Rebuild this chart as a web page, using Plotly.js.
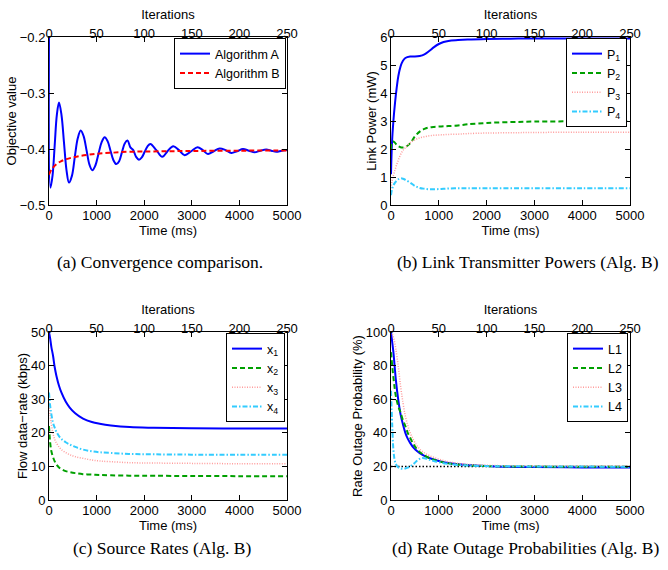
<!DOCTYPE html>
<html>
<head>
<meta charset="utf-8">
<script src="https://cdn.plot.ly/plotly-3.0.1.min.js"></script>
<style>html,body{margin:0;padding:0;background:#fff;}#chart{width:668px;height:570px;}</style>
</head>
<body>
<div id="chart"></div>
<script>
// ---------- Panel (a): objective value ----------
const timeA = [0, 30, 75, 120, 165, 210, 262, 315, 368, 420, 481, 543, 604, 666, 727, 789, 850, 911, 976, 1040, 1105, 1170, 1231, 1292, 1354, 1415, 1474, 1532, 1591, 1650, 1710, 1770, 1830, 1890, 1950, 2010, 2070, 2130, 2255, 2380, 2490, 2610, 2730, 2850, 2990, 3120, 3230, 3340, 3460, 3585, 3710, 3830, 3950, 4075, 4200, 4320, 4440, 4565, 4670, 4775, 4890, 5000];
const algA = [-0.2, -0.469, -0.447, -0.393, -0.339, -0.317, -0.339, -0.3885, -0.438, -0.460, -0.448, -0.4135, -0.381, -0.367, -0.377, -0.4025, -0.428, -0.438, -0.429, -0.4085, -0.388, -0.379, -0.386, -0.403, -0.420, -0.427, -0.4218, -0.406, -0.3902, -0.385, -0.397, -0.402, -0.414, -0.419, -0.4149, -0.405, -0.3951, -0.391, -0.402, -0.414, -0.404, -0.395, -0.402, -0.411, -0.404, -0.397, -0.402, -0.409, -0.404, -0.399, -0.402, -0.407, -0.404, -0.400, -0.403, -0.406, -0.403, -0.401, -0.403, -0.405, -0.403, -0.402];
const timeB = [0, 50, 155, 250, 365, 500, 645, 850, 1065, 1350, 1653, 2000, 2500, 3000, 4000, 5000];
const algB = [-0.446, -0.437, -0.427, -0.422, -0.418, -0.415, -0.4125, -0.41, -0.408, -0.4065, -0.405, -0.4045, -0.404, -0.4035, -0.403, -0.4025];

// ---------- Panel (b): link powers (mW) ----------
const timeP = [0, 20, 50, 84, 120, 153, 200, 250, 300, 400, 500, 600, 700, 800, 900, 1000, 1100, 1200, 1400, 1600, 2000, 2500, 3000, 4000, 5000];
const P1 = [1.1, 2.2, 3.0, 3.65, 4.2, 4.6, 4.95, 5.15, 5.25, 5.3, 5.3, 5.32, 5.38, 5.5, 5.64, 5.75, 5.82, 5.86, 5.89, 5.91, 5.93, 5.94, 5.95, 5.95, 5.95];
const P2 = [2.0, 2.25, 2.27, 2.22, 2.15, 2.1, 2.06, 2.05, 2.07, 2.2, 2.45, 2.62, 2.72, 2.77, 2.79, 2.8, 2.81, 2.82, 2.84, 2.88, 2.93, 2.96, 2.98, 2.99, 3.0];
const P3 = [0.6, 0.85, 1.05, 1.25, 1.45, 1.6, 1.8, 1.95, 2.05, 2.22, 2.33, 2.4, 2.44, 2.47, 2.49, 2.5, 2.51, 2.52, 2.53, 2.55, 2.57, 2.58, 2.59, 2.6, 2.6];
const P4 = [0.35, 0.55, 0.7, 0.8, 0.87, 0.92, 0.95, 0.94, 0.9, 0.8, 0.68, 0.61, 0.58, 0.56, 0.56, 0.57, 0.58, 0.59, 0.6, 0.6, 0.6, 0.6, 0.6, 0.6, 0.6];

// ---------- Panel (c): source rates (kbps) ----------
const timeX = [0, 25, 50, 84, 120, 155, 210, 260, 350, 435, 550, 715, 900, 1065, 1300, 1695, 2200, 3000, 4000, 5000];
const x1 = [50, 48, 45.5, 43, 39.5, 37, 34, 32, 29.3, 27.5, 25.8, 24.2, 23.2, 22.7, 22.2, 21.7, 21.5, 21.35, 21.3, 21.3];
const x2 = [22, 17, 14.5, 12.8, 11.5, 10.6, 9.7, 9.2, 8.6, 8.3, 8.0, 7.7, 7.55, 7.45, 7.35, 7.25, 7.2, 7.15, 7.1, 7.1];
const x3 = [29, 25, 22.5, 19.8, 18, 17, 15.8, 15, 14.1, 13.5, 12.9, 12.4, 11.9, 11.6, 11.4, 11.1, 11, 10.9, 10.8, 10.8];
const x4 = [32, 28, 25.5, 23, 21.5, 20.3, 19, 18.2, 17.2, 16.5, 15.8, 15, 14.5, 14.2, 14, 13.7, 13.6, 13.5, 13.5, 13.5];

// ---------- Panel (d): rate outage probabilities (%) ----------
const timeL = [0, 25, 50, 75, 100, 150, 200, 250, 300, 350, 400, 475, 550, 650, 800, 1000, 1200, 1600, 2200, 3000, 4000, 5000];
const L1 = [100, 94, 88, 80, 72, 60, 51, 45, 40, 36.5, 34, 31, 29, 27, 25, 23.2, 22, 20.8, 20, 19.6, 19.4, 19.3];
const L2 = [88, 80, 73, 67, 62, 56, 52, 47.5, 44, 40, 37, 33, 30, 27.5, 25, 23, 21.8, 20.7, 20.1, 19.9, 19.8, 19.8];
const L3 = [100, 99, 97, 94, 90, 80, 68, 58, 50, 44.5, 40, 35.5, 32, 29, 26.5, 24.3, 22.8, 21.2, 20.5, 20.3, 20.2, 20.2];
const L4 = [65, 45, 30, 24, 21.5, 19.5, 18.8, 18.6, 18.8, 19.3, 20, 21.5, 23.5, 25, 24, 22.5, 21.5, 20.5, 20.1, 20, 19.9, 19.8];
const targetTime = [0, 5000];
const targetOutage = [20, 20];

// ---------- Axis ranges and captions ----------
const timeRange = [0, 5000];
const iterRange = [0, 250];
const yRangeA = [-0.5, -0.2], yRangeB = [0, 6], yRangeC = [0, 50], yRangeD = [0, 100];
const captions = ["(a) Convergence comparison.", "(b) Link Transmitter Powers (Alg. B)", "(c) Source Rates (Alg. B)", "(d) Rate Outage Probabilities (Alg. B)"];

const BLUE = '#0000ff', RED = '#ff0000', GREEN = '#00a000', PINK = '#ff9c9c', CYAN = '#33ccff';
const solid = (c, s) => ({color: c, width: 2, dash: 'solid', shape: 'spline', smoothing: s || 1});
const dashed = c => ({color: c, width: 2, dash: '5px,3px', shape: 'spline', smoothing: 1});
const dotted = c => ({color: c, width: 1.5, dash: '1px,1.5px', shape: 'spline', smoothing: 1});
const dashdot = c => ({color: c, width: 2, dash: '5px,2px,1.5px,2px', shape: 'spline', smoothing: 1});

// invisible helper traces so that the top "Iterations" axes are drawn
const iterAxis = (xa, ya, yr) => ({x: iterRange, y: yr, mode: 'none', xaxis: xa, yaxis: ya, showlegend: false, hoverinfo: 'skip'});

const traces = [
  iterAxis('x2', 'y', yRangeA), iterAxis('x4', 'y2', yRangeB), iterAxis('x6', 'y3', yRangeC), iterAxis('x8', 'y4', yRangeD),

  {x: timeA, y: algA, name: 'Algorithm A', mode: 'lines', line: solid(BLUE, 1), xaxis: 'x', yaxis: 'y', legend: 'legend'},
  {x: timeB, y: algB, name: 'Algorithm B', mode: 'lines', line: dashed(RED), xaxis: 'x', yaxis: 'y', legend: 'legend'},

  {x: timeP, y: P1, name: 'P<sub>1</sub>', mode: 'lines', line: solid(BLUE), xaxis: 'x3', yaxis: 'y2', legend: 'legend2'},
  {x: timeP, y: P2, name: 'P<sub>2</sub>', mode: 'lines', line: dashed(GREEN), xaxis: 'x3', yaxis: 'y2', legend: 'legend2'},
  {x: timeP, y: P3, name: 'P<sub>3</sub>', mode: 'lines', line: dotted(PINK), xaxis: 'x3', yaxis: 'y2', legend: 'legend2'},
  {x: timeP, y: P4, name: 'P<sub>4</sub>', mode: 'lines', line: dashdot(CYAN), xaxis: 'x3', yaxis: 'y2', legend: 'legend2'},

  {x: timeX, y: x1, name: 'x<sub>1</sub>', mode: 'lines', line: solid(BLUE), xaxis: 'x5', yaxis: 'y3', legend: 'legend3'},
  {x: timeX, y: x2, name: 'x<sub>2</sub>', mode: 'lines', line: dashed(GREEN), xaxis: 'x5', yaxis: 'y3', legend: 'legend3'},
  {x: timeX, y: x3, name: 'x<sub>3</sub>', mode: 'lines', line: dotted(PINK), xaxis: 'x5', yaxis: 'y3', legend: 'legend3'},
  {x: timeX, y: x4, name: 'x<sub>4</sub>', mode: 'lines', line: dashdot(CYAN), xaxis: 'x5', yaxis: 'y3', legend: 'legend3'},

  {x: targetTime, y: targetOutage, name: 'target', mode: 'lines', line: {color: '#000', width: 1.5, dash: '1.5px,2px'}, xaxis: 'x7', yaxis: 'y4', showlegend: false},
  {x: timeL, y: L1, name: 'L1', mode: 'lines', line: solid(BLUE), xaxis: 'x7', yaxis: 'y4', legend: 'legend4'},
  {x: timeL, y: L2, name: 'L2', mode: 'lines', line: dashed(GREEN), xaxis: 'x7', yaxis: 'y4', legend: 'legend4'},
  {x: timeL, y: L3, name: 'L3', mode: 'lines', line: dotted(PINK), xaxis: 'x7', yaxis: 'y4', legend: 'legend4'},
  {x: timeL, y: L4, name: 'L4', mode: 'lines', line: dashdot(CYAN), xaxis: 'x7', yaxis: 'y4', legend: 'legend4'}
];

const W = 668, H = 570;
const colDom = [[49 / W, 287 / W], [391 / W, 630 / W]];
const rowDom = [[1 - 205 / H, 1 - 37 / H], [1 - 500 / H, 1 - 332 / H]];
const FONT = 'Liberation Sans, Arial, Helvetica, sans-serif';
const tickFont = {family: FONT, size: 13, color: '#000'};
const titleFont = {family: FONT, size: 13, color: '#000'};

const common = {
  showline: true, linecolor: '#000', linewidth: 1, ticks: 'inside', ticklen: 5, tickwidth: 1, tickcolor: '#000',
  showgrid: false, zeroline: false, tickfont: tickFont, automargin: false, fixedrange: true
};

function bottomX(dom, anchor) {
  return Object.assign({}, common, {domain: dom, anchor: anchor, range: timeRange, dtick: 1000, tick0: 0,
    ticklabelstandoff: -2, title: {text: 'Time (ms)', font: titleFont, standoff: 0}});
}
function topX(dom, anchor, over) {
  return Object.assign({}, common, {domain: dom, anchor: anchor, overlaying: over, side: 'top', range: iterRange, dtick: 50, tick0: 0,
    ticklabelstandoff: -7, title: {text: 'Iterations', font: titleFont, standoff: 3}});
}
function leftY(dom, anchor, range, dtick, title, fmt) {
  return Object.assign({}, common, {domain: dom, anchor: anchor, range: range, dtick: dtick, tick0: range[0], mirror: 'ticks',
    tickformat: fmt || '', title: {text: title, font: titleFont, standoff: 0}});
}
function legendAt(xr, yt) {
  return {x: xr, y: yt, xanchor: 'right', yanchor: 'top', bgcolor: '#fff', bordercolor: '#000', borderwidth: 1,
    font: {family: FONT, size: 12.5, color: '#000'}, tracegroupgap: 0, itemwidth: 30};
}

const layout = {
  width: W, height: H, margin: {l: 0, r: 0, t: 0, b: 0}, paper_bgcolor: '#fff', plot_bgcolor: '#fff',
  font: {family: FONT, color: '#000'},
  xaxis: bottomX(colDom[0], 'y'),
  xaxis2: topX(colDom[0], 'y', 'x'),
  yaxis: leftY(rowDom[0], 'x', yRangeA, 0.1, 'Objective value', '.1f'),
  xaxis3: bottomX(colDom[1], 'y2'),
  xaxis4: topX(colDom[1], 'y2', 'x3'),
  yaxis2: leftY(rowDom[0], 'x3', yRangeB, 1, 'Link Power (mW)'),
  xaxis5: bottomX(colDom[0], 'y3'),
  xaxis6: topX(colDom[0], 'y3', 'x5'),
  yaxis3: leftY(rowDom[1], 'x5', yRangeC, 10, 'Flow data\u2212rate (kbps)'),
  xaxis7: bottomX(colDom[1], 'y4'),
  xaxis8: topX(colDom[1], 'y4', 'x7'),
  yaxis4: leftY(rowDom[1], 'x7', yRangeD, 20, 'Rate Outage Probability (%)'),
  legend: legendAt(286 / W, 1 - 38 / H),
  legend2: legendAt(627 / W, 1 - 38 / H),
  legend3: legendAt(285 / W, 1 - 333 / H),
  legend4: legendAt(628 / W, 1 - 333 / H),
  annotations: [
    {text: captions[0], x: 160 / W, y: 1 - 262 / H},
    {text: captions[1], x: 528 / W, y: 1 - 262 / H},
    {text: captions[2], x: 162 / W, y: 1 - 548 / H},
    {text: captions[3], x: 525 / W, y: 1 - 548 / H}
  ].map(a => Object.assign(a, {xref: 'paper', yref: 'paper', xanchor: 'center', yanchor: 'middle', showarrow: false,
    font: {family: 'Liberation Serif, Times New Roman, serif', size: 17.5, color: '#000'}}))
};

Plotly.newPlot('chart', traces, layout, {staticPlot: true, displayModeBar: false});
</script>
</body>
</html>
